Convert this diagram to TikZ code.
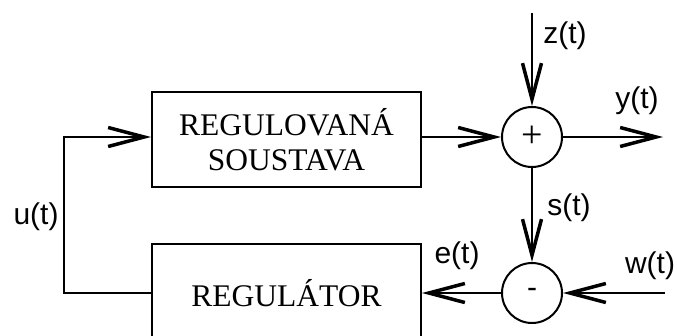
\documentclass[tikz,border=0pt]{standalone}
\usepackage{fontspec}
\setmainfont{Liberation Serif}
\newfontfamily\labelfont{Liberation Sans}
\usetikzlibrary{arrows.meta}
\begin{document}
\begin{tikzpicture}[x=1pt,y=-1pt,
  line width=2pt,
  >={Straight Barb[length=36pt,width=19pt,line width=3.5pt]},
  block/.style={draw, rectangle, minimum width=269pt, inner sep=0pt,
    font=\fontsize{31.5}{35}\selectfont, align=center},
  junction/.style={draw, circle, minimum size=60pt, inner sep=0pt},
  signal/.style={font=\labelfont\fontsize{30}{34}\selectfont, inner sep=0pt}]
\useasboundingbox (0,0) rectangle (677,335);
\clip (0,0) rectangle (677,335);

% blocks
\node[block, minimum height=95pt] (plant) at (286.5,139.5) {REGULOVANÁ\\SOUSTAVA};
\node[block, minimum height=98pt] (ctrl) at (286.5,293) {\raisebox{-3pt}{REGULÁTOR}};

% summing junctions
\node[junction, font=\fontsize{38}{40}\selectfont] (sum) at (532,137) {\raisebox{-1pt}{+}};
\node[junction, font=\labelfont\fontsize{30}{34}\selectfont] (cmp) at (532,293) {\raisebox{-4pt}{-}};

% free ends of the signals
\coordinate (zin) at (532,13);
\coordinate (yout) at (663,137);
\coordinate (win) at (665,293);
\coordinate (fb) at (64,293);

% connections
\draw[->] (zin) -- (sum.north);
\draw[->] (plant.east |- sum) -- (sum.west);
\draw[->] (sum.east) -- (yout);
\draw[->] (sum.south) -- (cmp.north);
\draw[->] (win) -- (cmp.east);
\draw[->] (cmp.west) -- (ctrl.east |- cmp);
\draw[->] (ctrl.west |- cmp) -- (fb) |- (plant.west |- sum);

% signal names
\node[signal] (zl) at (565,36) {z(t)};
\node[signal] (yl) at (637,101) {y(t)};
\node[signal] (sl) at (569,208) {s(t)};
\node[signal] (el) at (457,256) {e(t)};
\node[signal] (wl) at (650,266) {w(t)};
\node[signal] (ul) at (36,217) {u(t)};
\end{tikzpicture}
\end{document}
